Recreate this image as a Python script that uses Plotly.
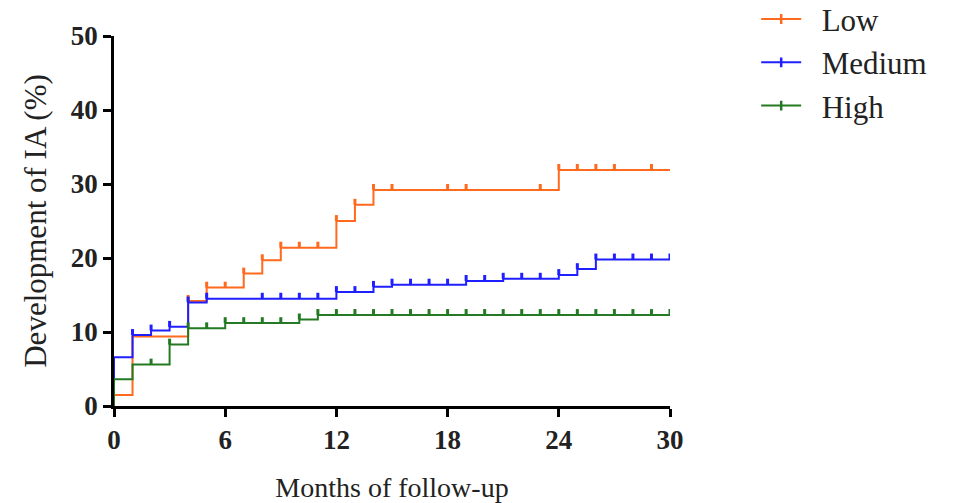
import plotly.graph_objects as go

# ---- data ----
low_times = [0, 1, 4, 5, 7, 8, 9, 12, 13, 14, 24]
low_levels = [1.5, 9.4, 14.2, 16.0, 17.9, 19.7, 21.4, 25.0, 27.2, 29.2, 31.9]
low_censor = [4, 5, 6, 7, 8, 9, 10, 11, 12, 13, 14, 15, 18, 19, 23, 24, 25, 26, 27, 29]

med_times = [0, 1, 2, 3, 4, 5, 12, 14, 15, 19, 21, 24, 25, 26]
med_levels = [6.6, 9.6, 10.2, 10.7, 14.0, 14.5, 15.4, 16.1, 16.4, 16.9, 17.2, 17.7, 18.5, 19.8]
med_censor = [1, 2, 3, 4, 5, 8, 9, 10, 11, 12, 13, 14, 15, 16, 17, 18, 19, 20, 21,
              22, 23, 24, 25, 26, 27, 28, 29, 30]

high_times = [0, 1, 3, 4, 6, 10, 11]
high_levels = [3.6, 5.6, 8.3, 10.5, 11.2, 11.7, 12.3]
high_censor = [2, 3, 4, 5, 6, 7, 8, 9, 10, 11, 12, 13, 14, 15, 16, 17, 18, 19, 20,
               21, 22, 23, 24, 25, 26, 27, 28, 29, 30]

series_names = ["Low", "Medium", "High"]
colors = ["#FF6A1F", "#1F1FFF", "#237A23"]
x_end = 30
x_ticks = [0, 6, 12, 18, 24, 30]
y_ticks = [0, 10, 20, 30, 40, 50]

FONT = "Liberation Serif"


def step_xy(times, levels, end):
    xs = [0] + list(times) + [end]
    ys = [0] + list(levels) + [levels[-1]]
    return xs, ys


def level_at(times, levels, t):
    v = 0
    for tt, lv in zip(times, levels):
        if tt <= t:
            v = lv
    return v


fig = go.Figure()
all_series = [(low_times, low_levels, low_censor),
              (med_times, med_levels, med_censor),
              (high_times, high_levels, high_censor)]

for (times, levels, censor), name, col in zip(all_series, series_names, colors):
    xs, ys = step_xy(times, levels, x_end)
    fig.add_trace(go.Scatter(x=xs, y=ys, mode="lines", line=dict(shape="hv", color=col, width=2),
                             showlegend=False, hoverinfo="skip"))
    cy = [level_at(times, levels, t) for t in censor]
    fig.add_trace(go.Scatter(
        x=censor, y=cy, mode="markers", marker=dict(size=1, color=col),
        error_y=dict(type="data", symmetric=False, array=[0.8] * len(censor),
                     arrayminus=[0] * len(censor), width=0, thickness=3, color=col),
        showlegend=False, hoverinfo="skip"))

for name, col in zip(series_names, colors):
    fig.add_trace(go.Scatter(
        x=[None], y=[None], mode="lines+markers", name="\u00a0\u00a0" + name,
        line=dict(color=col, width=2),
        marker=dict(symbol="line-ns", size=7, color=col, line=dict(color=col, width=2.5))))

axis_common = dict(showline=True, linecolor="black", linewidth=2.5, ticks="outside",
                   ticklen=8, tickwidth=2.5, tickcolor="black", showgrid=False,
                   zeroline=False, layer="below traces", automargin=False,
                   tickfont=dict(family=FONT, size=27, color="#222", weight="bold"))

# page body has an 8px margin, so the figure is drawn 8px smaller and offset
fig.update_layout(
    width=948, height=495,
    margin=dict(l=106, r=286, t=28, b=97, autoexpand=False),
    paper_bgcolor="white", plot_bgcolor="white",
    xaxis=dict(range=[0, x_end], tickvals=x_ticks, **axis_common,
               title=dict(text="Months of follow-up", font=dict(family=FONT, size=28, color="#222"),
                          standoff=24)),
    yaxis=dict(range=[0, 50], tickvals=y_ticks, **axis_common,
               title=dict(text="Development of IA (%)", font=dict(family=FONT, size=31, color="#222"),
                          standoff=15)),
    legend=dict(x=1.155, y=1.118, xanchor="left", yanchor="top",
                font=dict(family=FONT, size=31, color="#222"),
                bgcolor="rgba(0,0,0,0)", itemwidth=40),
)

fig.write_html("out.html")
